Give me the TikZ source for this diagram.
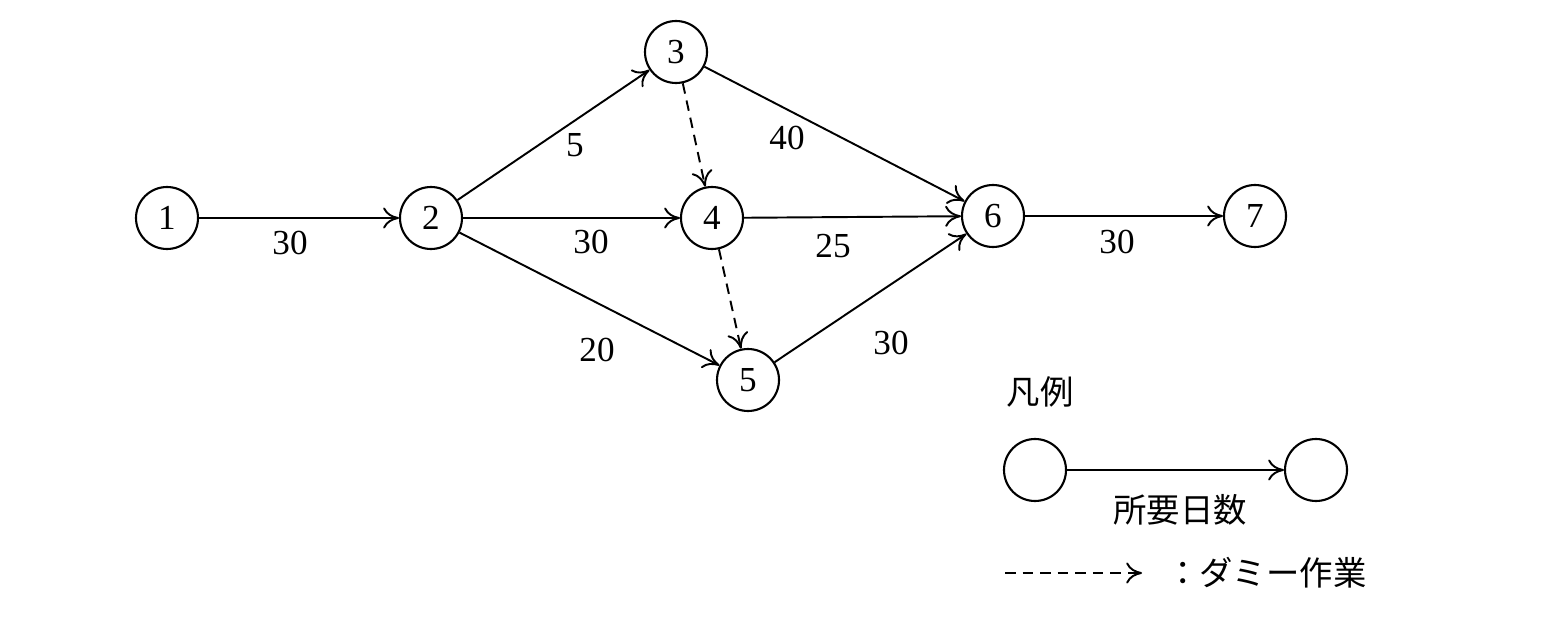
\documentclass[tikz,border=0pt]{standalone}
\usepackage{fontspec}
\setmainfont{Liberation Serif}
\newfontfamily\cjk{Noto Sans CJK JP}
\usetikzlibrary{arrows.meta}
\begin{document}
\begin{tikzpicture}[x=0.02cm,y=-0.02cm,
  ev/.style={circle,draw,line width=1.2pt,minimum size=62*0.02cm,inner sep=0pt,font=\fontsize{20}{22}\selectfont},
  act/.style={-{To[length=9pt,width=12pt]},line width=1.1pt},
  dum/.style={act,dashed,dash pattern=on 6pt off 4pt},
  lab/.style={font=\fontsize{20}{22}\selectfont},
  jl/.style={font=\cjk\fontsize{19}{22}\selectfont}]
\useasboundingbox (0,0) rectangle (1554,638);
\node[ev] (n1) at (167,218) {1};
\node[ev] (n2) at (431,218) {2};
\node[ev] (n3) at (676,52) {3};
\node[ev] (n4) at (712,218) {4};
\node[ev] (n5) at (748,380) {5};
\node[ev] (n6) at (993,216) {6};
\node[ev] (n7) at (1255,216) {7};
\draw[act] (n1) -- (n2);
\draw[act] (n2) -- (n3);
\draw[act] (n2) -- (n4);
\draw[act] (n2) -- (n5);
\draw[act] (n3) -- (n6);
\draw[act] (n4) -- (n6);
\draw[act] (n5) -- (n6);
\draw[act] (n6) -- (n7);
\draw[dum] (n3) -- (n4);
\draw[dum] (n4) -- (n5);
\node[lab] (l1) at (290,243) {30};
\node[lab] (l2) at (575,145) {5};
\node[lab] (l3) at (787,138) {40};
\node[lab] (l4) at (591,242) {30};
\node[lab] (l5) at (833,246) {25};
\node[lab] (l6) at (597,350) {20};
\node[lab] (l7) at (891,343) {30};
\node[lab] (l8) at (1117,242) {30};
\node[jl] (lg) at (1040,392) {凡例};
\node[ev] (la) at (1035,470) {};
\node[ev] (lb) at (1316,470) {};
\draw[act] (la) -- (lb);
\node[jl] (ld) at (1180,510) {所要日数};
\coordinate (da) at (1005,573);
\coordinate (db) at (1142,573);
\draw[dum] (da) -- (db);
\node[jl,anchor=west] (dt) at (1160,573) {：ダミー作業};
\end{tikzpicture}
\end{document}
